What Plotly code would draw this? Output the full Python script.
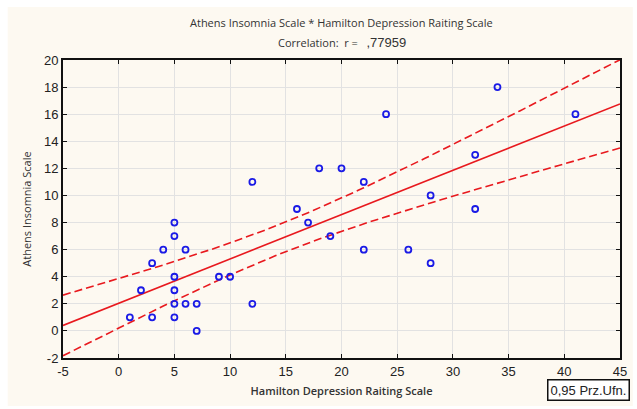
import numpy as np
import plotly.graph_objects as go

hamilton = [5, 5, 4, 6, 3, 5, 2, 5, 9, 10, 5, 6, 7, 12, 1, 3, 5, 7,
            12, 34, 24, 41, 32, 18, 20, 22, 16, 28, 32, 17, 19, 22, 26, 28]
athens = [8, 7, 6, 6, 5, 4, 3, 3, 4, 4, 2, 2, 2, 2, 1, 1, 1, 0,
          11, 18, 16, 16, 13, 12, 12, 11, 9, 10, 9, 8, 7, 6, 6, 5]
x_ticks = [-5, 0, 5, 10, 15, 20, 25, 30, 35, 40, 45]
y_ticks = [-2, 0, 2, 4, 6, 8, 10, 12, 14, 16, 18, 20]

x = np.array(hamilton, float)
y = np.array(athens, float)
n = len(x)
b, a = np.polyfit(x, y, 1)
xs = np.linspace(-5, 45, 101)
yhat = a + b * xs
res = y - (a + b * x)
s = np.sqrt(np.sum(res ** 2) / (n - 2))
t = 2.037
se = s * np.sqrt(1 / n + (xs - x.mean()) ** 2 / np.sum((x - x.mean()) ** 2))

red = "#E8191E"
fig = go.Figure()
fig.add_trace(go.Scatter(x=xs, y=yhat, mode="lines", line=dict(color=red, width=1.6), showlegend=False))
fig.add_trace(go.Scatter(x=xs, y=yhat + t * se, mode="lines", line=dict(color=red, width=1.6, dash="8px,4px"), showlegend=False))
fig.add_trace(go.Scatter(x=xs, y=yhat - t * se, mode="lines", line=dict(color=red, width=1.6, dash="8px,4px"), showlegend=False))
fig.add_trace(go.Scatter(x=hamilton, y=athens, mode="markers",
                         marker=dict(symbol="circle-open", size=6, color="#1A1AE6", line=dict(width=1.8)),
                         showlegend=False))

axis_common = dict(showgrid=True, gridcolor="#E2E2E2", gridwidth=1, zeroline=False,
                   showline=True, linecolor="#111111", linewidth=2, mirror="ticks",
                   ticks="inside", ticklen=4, tickcolor="#111111",
                   tickfont=dict(family="Liberation Sans, Arial", size=13, color="#222222"))

fig.update_xaxes(range=[-5, 45], tickmode="array", tickvals=x_ticks, ticktext=[str(v) for v in x_ticks],
                 **axis_common,
                 title=dict(text="Hamilton Depression Raiting Scale",
                            font=dict(family="Open Sans", size=11, color="#333333", weight=600), standoff=10))
fig.update_yaxes(range=[-2, 20], tickmode="array", tickvals=y_ticks, ticktext=[str(v) for v in y_ticks],
                 **axis_common,
                 title=dict(text="Athens Insomnia Scale",
                            font=dict(family="Open Sans", size=11, color="#333333"), standoff=10))

# cream panel inside a thin white border (pixel -> paper fractions)
pw, ph, ml, mb = 637 - 63 - 10, 409 - 60 - 51, 63, 51
def fx(px):
    return (px - ml) / pw
def fy(py):
    return (409 - mb - py) / ph

fig.update_layout(
    width=637, height=409,
    margin=dict(l=63, r=10, t=60, b=51),
    paper_bgcolor="#FFFFFF", plot_bgcolor="#FFFFFF",
    shapes=[dict(type="rect", xref="paper", yref="paper", x0=fx(7), x1=fx(640), y0=fy(406), y1=fy(7),
                 fillcolor="#FDF9F1", line=dict(width=0), layer="below")],
    annotations=[
        dict(text="Athens Insomnia Scale * Hamilton Depression Raiting Scale", xref="paper", yref="paper",
             x=0.5, y=1, yshift=38, xanchor="center", yanchor="middle", showarrow=False,
             font=dict(family="Open Sans", size=11, color="#333333")),
        dict(text="Correlation:  r =   <span style='font-family:Liberation Sans;font-size:13px'>,77959</span>",
             xref="paper", yref="paper",
             x=0.5, y=1, yshift=18, xanchor="center", yanchor="middle", showarrow=False,
             font=dict(family="Open Sans", size=11, color="#333333")),
        dict(text="0,95 Prz.Ufn.", xref="paper", yref="paper", x=1, y=0, yshift=-32, xshift=10,
             xanchor="right", yanchor="middle", showarrow=False,
             bordercolor="#111111", borderwidth=1.5, bgcolor="#FFFFFF", borderpad=2,
             font=dict(family="Liberation Sans, Arial", size=13, color="#222222")),
    ],
)

fig.write_html("out.html")
